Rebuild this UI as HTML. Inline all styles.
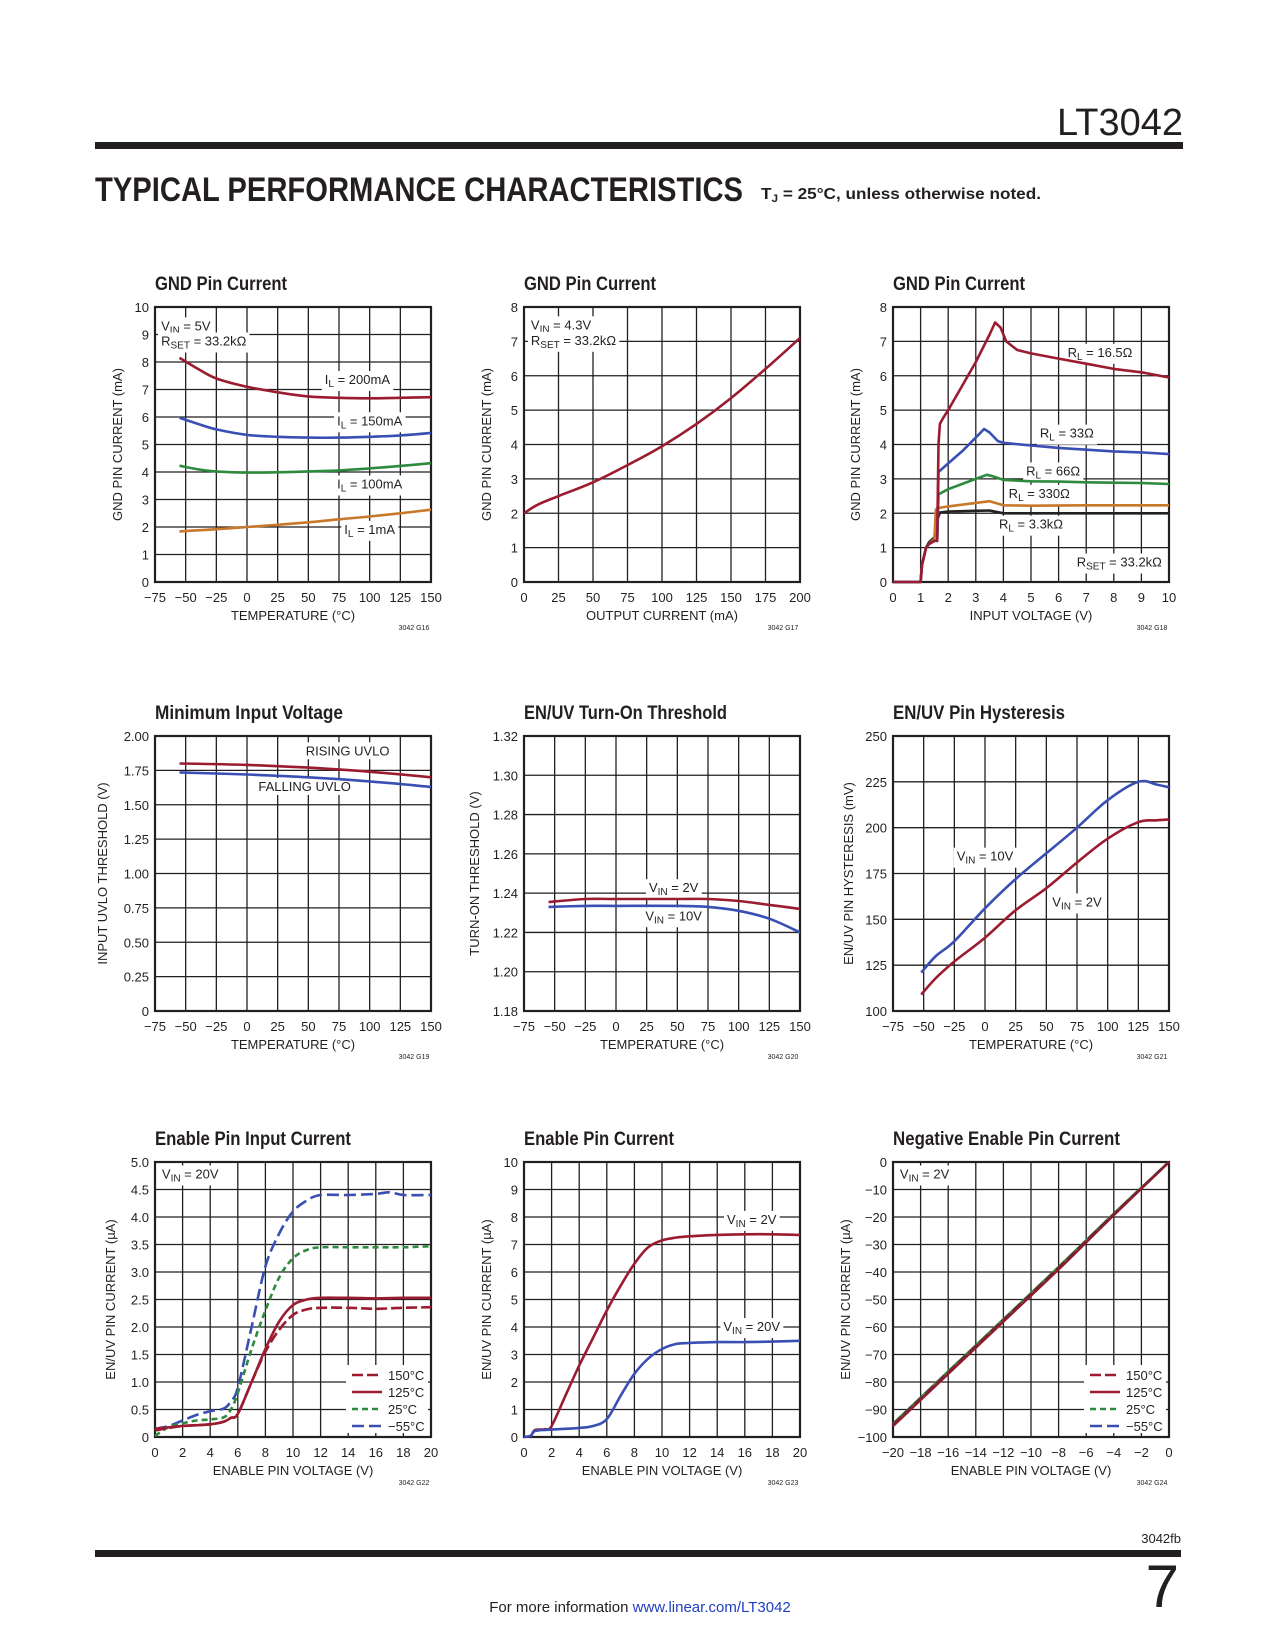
<!DOCTYPE html>
<html><head><meta charset="utf-8"><style>
html,body{margin:0;padding:0;background:#fff;}
svg{display:block;font-family:"Liberation Sans",sans-serif;}
</style></head><body>
<svg id="page" width="1275" height="1650" viewBox="0 0 1275 1650" xmlns="http://www.w3.org/2000/svg">
<text x="1183" y="135" text-anchor="end" font-size="38" fill="#231f20">LT3042</text>
<rect x="95" y="142" width="1088" height="7" fill="#231f20"/>
<text x="95" y="201" font-size="34" font-weight="bold" fill="#231f20" textLength="648" lengthAdjust="spacingAndGlyphs">TYPICAL PERFORMANCE CHARACTERISTICS</text>
<text x="761" y="199" font-size="16" font-weight="bold" fill="#231f20" textLength="280" lengthAdjust="spacingAndGlyphs">T<tspan font-size="11" dy="3">J</tspan><tspan dy="-3"> = 25°C, unless otherwise noted.</tspan></text>
<g id="charts"></g>
<text x="1181" y="1543" text-anchor="end" font-size="13" fill="#231f20">3042fb</text>
<rect x="95" y="1550" width="1086" height="7" fill="#231f20"/>
<text x="1179" y="1607" text-anchor="end" font-size="60" fill="#231f20">7</text>
<text x="640" y="1612" text-anchor="middle" font-size="15" fill="#231f20">For more information <tspan fill="#1f3fbf">www.linear.com/LT3042</tspan></text>
</svg>
<script>
// ---------- DATA ----------
// G16 GND pin current vs temperature
const g16Temps = [-55,-40,-25,0,25,50,75,100,125,150];
const g16I200 = [8.15,7.75,7.4,7.1,6.9,6.75,6.7,6.68,6.7,6.72];
const g16I150 = [5.97,5.75,5.55,5.35,5.28,5.25,5.25,5.28,5.33,5.42];
const g16I100 = [4.23,4.1,4.02,3.98,3.99,4.02,4.06,4.13,4.22,4.32];
const g16I1 = [1.84,1.88,1.92,2.0,2.08,2.17,2.28,2.38,2.5,2.63];
const g16XTicks = [-75,-50,-25,0,25,50,75,100,125,150];
const g16YTicks = [0,1,2,3,4,5,6,7,8,9,10];
// G17 GND pin current vs output current
const g17Iout = [0,10,25,50,75,100,125,150,175,200];
const g17Ignd = [2.0,2.25,2.5,2.9,3.4,3.95,4.6,5.35,6.2,7.1];
const g17XTicks = [0,25,50,75,100,125,150,175,200];
const g17YTicks = [0,1,2,3,4,5,6,7,8];
// G18 GND pin current vs input voltage
const g18VinA = [0,1.0,1.05,1.2,1.3,1.5,1.6,1.65,1.7,1.8,2,2.5,3,3.5,3.7,3.9,4.1,4.5,5,6,7,8,9,10];
const g18R16 = [0,0,0.5,1.0,1.1,1.2,1.2,4.0,4.6,4.75,5.0,5.7,6.4,7.2,7.55,7.4,7.0,6.75,6.65,6.5,6.35,6.2,6.1,5.95];
const g18VinB = [0,1,1.05,1.2,1.3,1.5,1.6,1.65,2,2.5,3,3.3,3.5,3.8,4,5,6,7,8,9,10];
const g18R33 = [0,0,0.5,1.0,1.1,1.2,1.2,3.2,3.45,3.8,4.2,4.45,4.35,4.1,4.05,3.97,3.9,3.85,3.8,3.77,3.72];
const g18VinC = [0,1,1.05,1.2,1.3,1.5,1.6,1.65,2,2.5,3,3.4,3.6,4,5,6,7,8,9,10];
const g18R66 = [0,0,0.5,1.0,1.1,1.2,1.2,2.55,2.7,2.85,3.0,3.12,3.08,2.97,2.93,2.92,2.9,2.89,2.88,2.85];
const g18VinD = [0,1,1.05,1.2,1.3,1.5,1.55,1.6,2,3,3.5,4,5,7,10];
const g18R330 = [0,0,0.5,1.0,1.1,1.25,2.1,2.15,2.2,2.3,2.35,2.23,2.22,2.23,2.23];
const g18VinE = [0,1,1.05,1.2,1.3,1.5,1.6,1.7,2,3,3.5,4,5,7,10];
const g18R3k = [0,0,0.5,1.0,1.15,1.3,1.8,2.02,2.05,2.07,2.08,2.0,2.0,2.0,2.0];
const g18XTicks = [0,1,2,3,4,5,6,7,8,9,10];
const g18YTicks = [0,1,2,3,4,5,6,7,8];
// G19 minimum input voltage
const g19Temps = [-55,0,50,100,150];
const g19Rising = [1.80,1.79,1.77,1.74,1.70];
const g19Falling = [1.735,1.72,1.70,1.67,1.63];
const g19YTicks = [0,0.25,0.5,0.75,1,1.25,1.5,1.75,2];
const g19YLabels = ["0","0.25","0.50","0.75","1.00","1.25","1.50","1.75","2.00"];
// G20 EN/UV turn-on threshold
const g20Temps = [-55,-25,0,50,75,100,125,150];
const g20V2 = [1.2355,1.237,1.237,1.237,1.237,1.236,1.234,1.232];
const g20V10 = [1.233,1.2335,1.2335,1.2335,1.233,1.231,1.227,1.220];
const g20YTicks = [1.18,1.20,1.22,1.24,1.26,1.28,1.30,1.32];
const g20YLabels = ["1.18","1.20","1.22","1.24","1.26","1.28","1.30","1.32"];
// G21 EN/UV hysteresis
const g21Temps = [-52,-40,-25,0,25,50,75,100,125,140,150];
const g21V10 = [121,130,138,156,172,186,200,215,225,223.5,222];
const g21V2 = [109,118,127,140,155,167,181,194,203,204,204.5];
const g21YTicks = [100,125,150,175,200,225,250];
// G22 enable pin input current
const g22VenA = [0,1,2,3,4,5,5.5,6,7,8,9,10,11,12,14,16,17,18,20];
const g22Tm55 = [0.15,0.2,0.3,0.4,0.47,0.52,0.65,0.9,2.0,3.1,3.7,4.1,4.3,4.4,4.4,4.42,4.45,4.4,4.4];
const g22VenB = [0,1,2,3,4,5,5.5,6,7,8,9,10,11,12,14,16,18,20];
const g22T25 = [0.02,0.18,0.25,0.3,0.32,0.36,0.5,0.8,1.6,2.3,2.9,3.25,3.4,3.45,3.45,3.45,3.45,3.47];
const g22VenC = [0,2,4,5,5.5,6,7,8,9,10,11,12,14,16,18,20];
const g22T125 = [0.15,0.2,0.23,0.28,0.35,0.42,1.0,1.6,2.1,2.4,2.5,2.53,2.53,2.52,2.53,2.53];
const g22T150 = [0.12,0.2,0.23,0.28,0.35,0.42,1.0,1.55,1.95,2.22,2.32,2.35,2.35,2.33,2.35,2.36];
const g22XTicks = [0,2,4,6,8,10,12,14,16,18,20];
const g22YTicks = [0,0.5,1,1.5,2,2.5,3,3.5,4,4.5,5];
const g22YLabels = ["0","0.5","1.0","1.5","2.0","2.5","3.0","3.5","4.0","4.5","5.0"];
// G23 enable pin current
const g23VenA = [0,0.5,0.8,1.5,2,3,4,5,6,7,8,9,10,11,12,14,16,18,20];
const g23Vin2 = [0,0.05,0.25,0.28,0.4,1.5,2.6,3.6,4.6,5.5,6.3,6.9,7.15,7.25,7.3,7.35,7.37,7.37,7.35];
const g23VenB = [0,0.5,0.8,2,4,5,6,7,8,9,10,11,12,14,16,18,20];
const g23Vin20 = [0,0.05,0.22,0.27,0.33,0.4,0.65,1.5,2.3,2.85,3.2,3.38,3.42,3.45,3.45,3.47,3.5];
const g23YTicks = [0,1,2,3,4,5,6,7,8,9,10];
// G24 negative enable pin current
const g24Ven = [-20,-16,-12,-8,-4,0];
const g24T150 = [-95.5,-76.5,-57.5,-38.5,-19,0];
const g24T125 = [-96,-77,-58,-39,-19.3,0];
const g24T25 = [-95.2,-76.2,-57.2,-38.2,-18.8,0];
const g24Tm55 = [-95.3,-76.3,-57.3,-38.3,-18.9,0];
const g24XTicks = [-20,-18,-16,-14,-12,-10,-8,-6,-4,-2,0];
const g24XLabels = ["−20","−18","−16","−14","−12","−10","−8","−6","−4","−2","0"];
const g24YTicks = [-100,-90,-80,-70,-60,-50,-40,-30,-20,-10,0];
const g24YLabels = ["−100","−90","−80","−70","−60","−50","−40","−30","−20","−10","0"];

const tempLabels = ["−75","−50","−25","0","25","50","75","100","125","150"];

// ---------- RENDER ----------
const NS = "http://www.w3.org/2000/svg";
const root = document.getElementById('charts');
const INK = "#231f20";
const RED = "#9b1b30", BLUE = "#3a4fb3", GREEN = "#2e8b3e", ORANGE = "#c7782b", BLACK = "#222";
function mk(tag, attrs, parent) {
  const e = document.createElementNS(NS, tag);
  for (const k in attrs) e.setAttribute(k, attrs[k]);
  (parent || root).appendChild(e);
  return e;
}
function pathD(xs, ys, sx, sy, smooth) {
  const p = xs.map((x, i) => [sx(x), sy(ys[i])]);
  let d = "M" + p[0][0].toFixed(1) + "," + p[0][1].toFixed(1);
  for (let i = 1; i < p.length; i++) {
    if (!smooth) { d += "L" + p[i][0].toFixed(1) + "," + p[i][1].toFixed(1); continue; }
    const p0 = p[i - 2] || p[i - 1], p1 = p[i - 1], p2 = p[i], p3 = p[i + 1] || p2;
    const c1x = p1[0] + (p2[0] - p0[0]) / 6, c1y = p1[1] + (p2[1] - p0[1]) / 6;
    const c2x = p2[0] - (p3[0] - p1[0]) / 6, c2y = p2[1] - (p3[1] - p1[1]) / 6;
    d += "C" + c1x.toFixed(1) + "," + c1y.toFixed(1) + " " + c2x.toFixed(1) + "," + c2y.toFixed(1) + " " + p2[0].toFixed(1) + "," + p2[1].toFixed(1);
  }
  return d;
}
function label(g, x, y, html, anchor, name) {
  const t = mk('text', {x: x, y: y, 'font-size': 13, fill: INK, 'text-anchor': anchor || 'middle'}, g);
  t.innerHTML = html;
  
  
  const b = t.getBBox();
  const r = document.createElementNS(NS, 'rect');
  r.setAttribute('x', b.x - 3); r.setAttribute('y', b.y - 1);
  r.setAttribute('width', b.width + 6); r.setAttribute('height', b.height + 2);
  r.setAttribute('fill', '#fff');
  
  
  g.insertBefore(r, t);
  return t;
}
function sub(a, s, rest) { return a + '<tspan font-size="10" dy="3">' + s + '</tspan><tspan dy="-3">' + rest + '</tspan>'; }

function chart(c) {
  const g = mk('g', {});
  
  
  const L = c.left, T = c.top, W = c.w, H = c.h;
  const sx = v => L + (v - c.xmin) / (c.xmax - c.xmin) * W;
  const sy = v => T + H - (v - c.ymin) / (c.ymax - c.ymin) * H;
  const title = mk('text', {x: L, y: T - 17, 'font-size': 19, 'font-weight': 'bold', fill: INK, textLength: c.titleLen, lengthAdjust: 'spacingAndGlyphs'}, g);
  title.textContent = c.title;
  
  
  // grid
  c.xTicks.forEach((v, i) => {
    const ln = mk('line', {x1: sx(v), x2: sx(v), y1: T, y2: T + H, stroke: INK, 'stroke-width': 1.3}, g);
    
    
    const t = mk('text', {x: sx(v), y: T + H + 20, 'font-size': 13, fill: INK, 'text-anchor': 'middle'}, g);
    t.textContent = c.xLabels ? c.xLabels[i] : String(v);
    
    
  });
  c.yTicks.forEach((v, i) => {
    const ln = mk('line', {x1: L, x2: L + W, y1: sy(v), y2: sy(v), stroke: INK, 'stroke-width': 1.3}, g);
    
    
    const t = mk('text', {x: L - 6, y: sy(v) + 5, 'font-size': 13, fill: INK, 'text-anchor': 'end'}, g);
    t.textContent = c.yLabels ? c.yLabels[i] : String(v);
    
    
  });
  const fr = mk('rect', {x: L, y: T, width: W, height: H, fill: 'none', stroke: INK, 'stroke-width': 2.2}, g);
  
  
  const xt = mk('text', {x: L + W / 2, y: T + H + 38, 'font-size': 13, fill: INK, 'text-anchor': 'middle'}, g);
  xt.textContent = c.xTitle;
  
  
  const yt = mk('text', {x: 0, y: 0, 'font-size': 13, fill: INK, 'text-anchor': 'middle', transform: 'translate(' + (L - c.yTitleOff) + ',' + (T + H / 2) + ') rotate(-90)'}, g);
  yt.textContent = c.yTitle;
  
  
  const code = mk('text', {x: L + W - 17, y: T + H + 48, 'font-size': 7, fill: INK, 'text-anchor': 'middle'}, g);
  code.textContent = c.code;
  
  
  // labels (behind lines? in reference labels sit on white boxes over grid)
  (c.labels || []).forEach(lb => {
    label(g, sx(lb.x), sy(lb.y), lb.html, lb.anchor, lb.name);
  });
  (c.series || []).forEach(s => {
    const p = mk('path', {d: pathD(s.x, s.y, sx, sy, s.smooth !== false), fill: 'none', stroke: s.color, 'stroke-width': 2.6, 'stroke-linejoin': 'round'}, g);
    if (s.dash) p.setAttribute('stroke-dasharray', s.dash);
    
    
  });
  if (c.legend) {
    const lg = mk('g', {}, g);
    
    
    mk('rect', {x: L + W - 85, y: T + H - 72, width: 82, height: 68, fill: '#fff'}, lg);
    c.legend.forEach((e, i) => {
      const yy = T + H - 62 + i * 17;
      const ln = mk('line', {x1: L + W - 79, x2: L + W - 49, y1: yy, y2: yy, stroke: e.color, 'stroke-width': 2.6}, lg);
      if (e.dash) ln.setAttribute('stroke-dasharray', e.dash);
      
      
      const t = mk('text', {x: L + W - 43, y: yy + 5, 'font-size': 13, fill: INK}, lg);
      t.textContent = e.text;
      
      
    });
  }
}
const COLS = [155, 524, 893], ROWS = [307, 736, 1162], W = 276, H = 275;
const TEMPX = {xmin: -75, xmax: 150, xTicks: g16XTicks, xLabels: tempLabels, xTitle: 'TEMPERATURE (°C)'};
const tempLegend = [
  {text: '150°C', color: RED, dash: '11,4'},
  {text: '125°C', color: RED},
  {text: '25°C', color: GREEN, dash: '6,4'},
  {text: '−55°C', color: BLUE, dash: '12,5'}];

chart(Object.assign({name: 'chart-gnd-current-vs-temp', left: COLS[0], top: ROWS[0], w: W, h: H, title: 'GND Pin Current', titleLen: 132,
  ymin: 0, ymax: 10, yTicks: g16YTicks, yTitle: 'GND PIN CURRENT (mA)', yTitleOff: 33, code: '3042 G16',
  labels: [
    {x: -70, y: 9.15, html: sub('V', 'IN', ' = 5V'), anchor: 'start', name: 'vin-note'},
    {x: -70, y: 8.6, html: sub('R', 'SET', ' = 33.2kΩ'), anchor: 'start', name: 'rset-note'},
    {x: 90, y: 7.2, html: sub('I', 'L', ' = 200mA'), name: 'label-200ma'},
    {x: 100, y: 5.7, html: sub('I', 'L', ' = 150mA'), name: 'label-150ma'},
    {x: 100, y: 3.4, html: sub('I', 'L', ' = 100mA'), name: 'label-100ma'},
    {x: 100, y: 1.75, html: sub('I', 'L', ' = 1mA'), name: 'label-1ma'}],
  series: [
    {x: g16Temps, y: g16I200, color: RED, name: 'line-200ma'},
    {x: g16Temps, y: g16I150, color: BLUE, name: 'line-150ma'},
    {x: g16Temps, y: g16I100, color: GREEN, name: 'line-100ma'},
    {x: g16Temps, y: g16I1, color: ORANGE, name: 'line-1ma'}]}, TEMPX));

chart({name: 'chart-gnd-current-vs-iout', left: COLS[1], top: ROWS[0], w: W, h: H, title: 'GND Pin Current', titleLen: 132,
  xmin: 0, xmax: 200, xTicks: g17XTicks, xTitle: 'OUTPUT CURRENT (mA)',
  ymin: 0, ymax: 8, yTicks: g17YTicks, yTitle: 'GND PIN CURRENT (mA)', yTitleOff: 33, code: '3042 G17',
  labels: [
    {x: 5, y: 7.35, html: sub('V', 'IN', ' = 4.3V'), anchor: 'start', name: 'vin-note'},
    {x: 5, y: 6.9, html: sub('R', 'SET', ' = 33.2kΩ'), anchor: 'start', name: 'rset-note'}],
  series: [{x: g17Iout, y: g17Ignd, color: RED, name: 'line-gnd-current'}]});

chart({name: 'chart-gnd-current-vs-vin', left: COLS[2], top: ROWS[0], w: W, h: H, title: 'GND Pin Current', titleLen: 132,
  xmin: 0, xmax: 10, xTicks: g18XTicks, xTitle: 'INPUT VOLTAGE (V)',
  ymin: 0, ymax: 8, yTicks: g18YTicks, yTitle: 'GND PIN CURRENT (mA)', yTitleOff: 33, code: '3042 G18',
  labels: [
    {x: 7.5, y: 6.55, html: sub('R', 'L', ' = 16.5Ω'), name: 'label-16r5'},
    {x: 6.3, y: 4.2, html: sub('R', 'L', ' = 33Ω'), name: 'label-33r'},
    {x: 5.8, y: 3.1, html: sub('R', 'L', ' = 66Ω'), name: 'label-66r'},
    {x: 5.3, y: 2.45, html: sub('R', 'L', ' = 330Ω'), name: 'label-330r'},
    {x: 5.0, y: 1.55, html: sub('R', 'L', ' = 3.3kΩ'), name: 'label-3k3'},
    {x: 8.2, y: 0.45, html: sub('R', 'SET', ' = 33.2kΩ'), name: 'rset-note'}],
  series: [
    {x: g18VinE, y: g18R3k, color: BLACK, name: 'line-3k3', smooth: false},
    {x: g18VinD, y: g18R330, color: ORANGE, name: 'line-330r', smooth: false},
    {x: g18VinC, y: g18R66, color: GREEN, name: 'line-66r', smooth: false},
    {x: g18VinB, y: g18R33, color: BLUE, name: 'line-33r', smooth: false},
    {x: g18VinA, y: g18R16, color: RED, name: 'line-16r5', smooth: false}]});

chart(Object.assign({name: 'chart-min-input-voltage', left: COLS[0], top: ROWS[1], w: W, h: H, title: 'Minimum Input Voltage', titleLen: 188,
  ymin: 0, ymax: 2, yTicks: g19YTicks, yLabels: g19YLabels, yTitle: 'INPUT UVLO THRESHOLD (V)', yTitleOff: 48, code: '3042 G19',
  labels: [
    {x: 82, y: 1.86, html: 'RISING UVLO', name: 'label-rising'},
    {x: 47, y: 1.6, html: 'FALLING UVLO', name: 'label-falling'}],
  series: [
    {x: g19Temps, y: g19Rising, color: RED, name: 'line-rising-uvlo'},
    {x: g19Temps, y: g19Falling, color: BLUE, name: 'line-falling-uvlo'}]}, TEMPX));

chart(Object.assign({name: 'chart-enuv-turn-on', left: COLS[1], top: ROWS[1], w: W, h: H, title: 'EN/UV Turn-On Threshold', titleLen: 203,
  ymin: 1.18, ymax: 1.32, yTicks: g20YTicks, yLabels: g20YLabels, yTitle: 'TURN-ON THRESHOLD (V)', yTitleOff: 45, code: '3042 G20',
  labels: [
    {x: 47, y: 1.2405, html: sub('V', 'IN', ' = 2V'), name: 'label-vin2'},
    {x: 47, y: 1.2262, html: sub('V', 'IN', ' = 10V'), name: 'label-vin10'}],
  series: [
    {x: g20Temps, y: g20V2, color: RED, name: 'line-vin2'},
    {x: g20Temps, y: g20V10, color: BLUE, name: 'line-vin10'}]}, TEMPX));

chart(Object.assign({name: 'chart-enuv-hysteresis', left: COLS[2], top: ROWS[1], w: W, h: H, title: 'EN/UV Pin Hysteresis', titleLen: 172,
  ymin: 100, ymax: 250, yTicks: g21YTicks, yTitle: 'EN/UV PIN HYSTERESIS (mV)', yTitleOff: 40, code: '3042 G21',
  labels: [
    {x: 0, y: 182, html: sub('V', 'IN', ' = 10V'), name: 'label-vin10'},
    {x: 75, y: 157, html: sub('V', 'IN', ' = 2V'), name: 'label-vin2'}],
  series: [
    {x: g21Temps, y: g21V10, color: BLUE, name: 'line-vin10'},
    {x: g21Temps, y: g21V2, color: RED, name: 'line-vin2'}]}, TEMPX));

chart({name: 'chart-enable-input-current', left: COLS[0], top: ROWS[2], w: W, h: H, title: 'Enable Pin Input Current', titleLen: 196,
  xmin: 0, xmax: 20, xTicks: g22XTicks, xTitle: 'ENABLE PIN VOLTAGE (V)',
  ymin: 0, ymax: 5, yTicks: g22YTicks, yLabels: g22YLabels, yTitle: 'EN/UV PIN CURRENT (µA)', yTitleOff: 40, code: '3042 G22',
  labels: [{x: 0.5, y: 4.7, html: sub('V', 'IN', ' = 20V'), anchor: 'start', name: 'vin-note'}],
  series: [
    {x: g22VenA, y: g22Tm55, color: BLUE, dash: '12,5', name: 'line-minus55c'},
    {x: g22VenB, y: g22T25, color: GREEN, dash: '6,4', name: 'line-25c'},
    {x: g22VenC, y: g22T150, color: RED, dash: '11,4', name: 'line-150c'},
    {x: g22VenC, y: g22T125, color: RED, name: 'line-125c'}],
  legend: tempLegend});

chart({name: 'chart-enable-current', left: COLS[1], top: ROWS[2], w: W, h: H, title: 'Enable Pin Current', titleLen: 150,
  xmin: 0, xmax: 20, xTicks: g22XTicks, xTitle: 'ENABLE PIN VOLTAGE (V)',
  ymin: 0, ymax: 10, yTicks: g23YTicks, yTitle: 'EN/UV PIN CURRENT (µA)', yTitleOff: 33, code: '3042 G23',
  labels: [
    {x: 16.5, y: 7.75, html: sub('V', 'IN', ' = 2V'), name: 'label-vin2'},
    {x: 16.5, y: 3.85, html: sub('V', 'IN', ' = 20V'), name: 'label-vin20'}],
  series: [
    {x: g23VenA, y: g23Vin2, color: RED, name: 'line-vin2'},
    {x: g23VenB, y: g23Vin20, color: BLUE, name: 'line-vin20'}]});

chart({name: 'chart-negative-enable-current', left: COLS[2], top: ROWS[2], w: W, h: H, title: 'Negative Enable Pin Current', titleLen: 227,
  xmin: -20, xmax: 0, xTicks: g24XTicks, xLabels: g24XLabels, xTitle: 'ENABLE PIN VOLTAGE (V)',
  ymin: -100, ymax: 0, yTicks: g24YTicks, yLabels: g24YLabels, yTitle: 'EN/UV PIN CURRENT (µA)', yTitleOff: 43, code: '3042 G24',
  labels: [{x: -19.5, y: -6, html: sub('V', 'IN', ' = 2V'), anchor: 'start', name: 'vin-note'}],
  series: [
    {x: g24Ven, y: g24Tm55, color: BLUE, name: 'line-minus55c'},
    {x: g24Ven, y: g24T25, color: GREEN, name: 'line-25c'},
    {x: g24Ven, y: g24T125, color: RED, name: 'line-125c'},
    {x: g24Ven, y: g24T150, color: '#7a2030', dash: '11,4', name: 'line-150c'}],
  legend: tempLegend});
</script>
</body></html>
